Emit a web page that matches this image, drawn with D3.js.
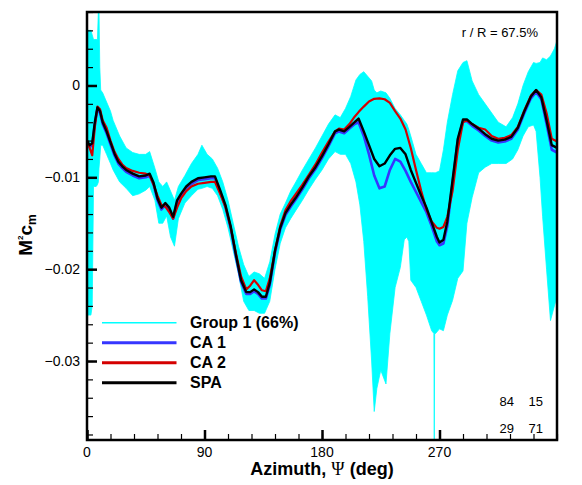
<!DOCTYPE html>
<html><head><meta charset="utf-8">
<script src="https://cdn.jsdelivr.net/npm/d3@7"></script>
<style>body{margin:0;background:#fff;}svg{display:block;font-family:Arial,"Liberation Sans",sans-serif;}</style>
</head><body>
<svg id="chart" width="582" height="485"></svg>
<script>
// ---- data (moment coefficient values, units of 1e-3 converted below) ----
const psi = [0,2,4,6,8,10,12,15,18,21,24,27,30,35,40,45,48,51,54,57,60,63,66,69,72,76,80,85,90,95,98,102,106,110,114,118,122,125,128,131,134,137,140,144,148,152,156,160,165,170,175,180,185,190,193,197,201,205,208,212,216,220,224,228,232,236,240,244,248,252,256,260,264,268,270,273,276,280,284,288,291,295,300,305,310,315,320,325,330,335,340,344,348,352,356,360];
const spa = [-6.0,-6.5,-6.3,-4.0,-2.4,-2.8,-4.0,-5.0,-6.2,-7.4,-8.3,-8.8,-9.2,-9.6,-9.9,-9.8,-9.6,-10.6,-12.3,-13.3,-12.8,-13.3,-14.3,-12.5,-11.8,-11.0,-10.5,-10.1,-10.0,-9.9,-9.9,-11.4,-13.0,-15.3,-18.4,-21.2,-22.5,-22.5,-22.2,-22.5,-23.0,-23.0,-21.5,-18.0,-15.5,-13.9,-13.0,-12.2,-11.1,-9.9,-8.9,-7.7,-6.4,-5.0,-4.8,-5.0,-4.5,-4.0,-3.6,-5.0,-6.5,-8.0,-8.8,-8.5,-7.6,-6.9,-6.8,-7.5,-9.2,-10.6,-12.0,-13.3,-14.9,-16.5,-17.1,-16.8,-14.8,-10.3,-5.8,-3.7,-3.7,-4.2,-4.7,-5.3,-5.8,-6.0,-5.9,-5.6,-4.6,-2.8,-1.2,-0.5,-1.3,-3.8,-6.5,-6.8];
const ca1 = [-6.2,-6.7,-6.5,-4.2,-2.5,-3.0,-4.2,-5.2,-6.4,-7.6,-8.5,-9.0,-9.4,-9.8,-10.1,-10.0,-9.8,-10.8,-12.5,-13.5,-13.0,-13.5,-14.5,-12.7,-12.0,-11.2,-10.7,-10.3,-10.2,-10.1,-10.1,-11.6,-13.2,-15.5,-18.6,-21.4,-22.7,-22.7,-22.4,-22.7,-23.2,-23.2,-21.7,-18.2,-15.7,-14.1,-13.2,-12.4,-11.3,-10.1,-9.1,-7.9,-6.6,-5.2,-5.0,-5.2,-4.7,-4.2,-4.0,-5.5,-7.5,-9.8,-11.2,-11.0,-9.2,-8.0,-8.3,-9.3,-10.5,-11.6,-12.7,-13.8,-15.3,-17.0,-17.4,-17.2,-15.3,-10.6,-6.0,-3.9,-3.9,-4.4,-4.9,-5.5,-6.0,-6.2,-6.1,-5.8,-4.8,-3.0,-1.4,-0.7,-1.5,-4.2,-7.0,-7.3];
const ca2 = [-6.0,-6.8,-7.6,-4.5,-2.3,-2.6,-3.8,-4.6,-6.0,-7.2,-8.0,-8.6,-9.0,-9.3,-9.5,-9.6,-9.8,-10.8,-12.0,-13.0,-13.2,-13.8,-14.5,-13.3,-12.3,-11.5,-11.0,-10.7,-10.6,-10.5,-10.5,-11.8,-13.2,-15.4,-18.2,-20.8,-22.2,-21.8,-21.2,-21.7,-22.3,-22.4,-21.0,-18.0,-15.3,-13.6,-12.6,-11.8,-10.8,-9.7,-8.6,-7.3,-6.1,-5.0,-4.7,-4.8,-4.2,-3.4,-2.9,-2.3,-1.75,-1.45,-1.4,-1.5,-1.9,-2.8,-3.6,-4.8,-6.8,-9.2,-11.5,-13.5,-14.8,-15.5,-15.6,-15.4,-14.3,-11.5,-7.0,-4.0,-3.8,-4.2,-4.6,-4.8,-5.5,-5.8,-5.7,-5.4,-4.5,-2.7,-1.1,-0.5,-1.0,-3.0,-5.8,-6.1];
// Group 1 (66%) scatter envelope
const grpPsi   = [0,2,3,4,5,6,7,8,8.7,9.2,9.8,10.5,12,15,18,20,25,30,35,40,45,48,52,55,58,61,64,67,70,75,80,85,88,92,96,100,104,108,112,116,120,124,128,132,136,140,144,148,152,156,160,165,170,175,180,185,190,194,198,202,206,209,212,215,218,220,222,225,229,232,236,240,243,245,246.5,248,252,256,260,264,265.7,266,266.3,267,270,273,276,280,284,288,291,295,300,305,310,315,321,326,330,334,338,342,344,347,349,352,355,358,360];
const grpUpper = [6,6,6,5.5,5,5,5,5,8,8,2,-0.5,-0.8,-1.8,-2.8,-3.8,-5.5,-6.8,-7.3,-7.5,-7.5,-7.2,-9,-10.5,-11,-10.5,-11.5,-12.5,-11,-9.8,-8.5,-7.5,-6.5,-7.5,-8,-9,-10.5,-12.5,-15,-17.5,-19.5,-20.8,-20.3,-20.5,-21,-19.2,-16.2,-14,-12.8,-11.5,-10.5,-9.2,-8,-6.8,-5.5,-4.2,-3.2,-3.5,-2.5,-1.2,0.6,1.2,1.5,1,0.5,-0.5,-0.8,-0.6,-0.8,-1.4,-2.5,-3.2,-3.8,-4.2,-4.8,-5.5,-7.5,-8.5,-9.5,-9.5,-9.5,-9.5,-9.5,-9.5,-9.3,-7,-4,-1,1.6,2.5,2.7,0.5,-1,-2,-3,-4,-4.5,-3.5,-2,0,1.5,2.5,2.4,2.5,3,2.8,3.2,4,4.9];
const grpLower = [-25,-25,-25,-24,-11,-11,-11,-10.8,-10.5,-9,-8,-6.5,-6.5,-7.5,-8.5,-9.2,-10.5,-11.2,-12,-11.8,-11.4,-11,-12.5,-15,-15,-14.2,-16.5,-17.5,-14.5,-12.8,-12,-11.3,-11.2,-11,-11.2,-12,-13.5,-15.5,-18,-20.5,-23.5,-24.5,-24.5,-24.8,-24.8,-23.5,-20,-17.2,-15.5,-14.5,-13.6,-12.5,-11.3,-10.2,-9.2,-8,-7.2,-7.5,-7.5,-8.5,-10.5,-13,-17,-23,-30,-35.5,-33,-31,-32.5,-27,-22,-19.8,-16.8,-16.5,-17,-21.2,-22,-23.5,-25,-26.7,-27,-38.6,-27,-27,-26.5,-26.7,-25,-23.4,-21,-20.2,-15,-12.2,-9.5,-8.9,-8.5,-8.5,-8.5,-8,-7,-5.5,-4.5,-4.3,-5,-10,-14.3,-20,-25.6,-24,-23];
const xTicksMajor = [0,90,180,270];
const yTicksMajor = [0,-0.01,-0.02,-0.03];
const seriesNames = ["Group 1 (66%)","CA 1","CA 2","SPA"];
const seriesColors = ["#00ffff","#3636ff","#d40000","#000000"];

const k = 0.001;
const svg = d3.select("#chart");
const L = 87, R = 557, T = 12, B = 440;
const x = d3.scaleLinear().domain([0,360]).range([L,R]);
const y = d3.scaleLinear().domain([-0.0386,0.008]).range([B,T]);

svg.append("defs").append("clipPath").attr("id","clip")
  .append("rect").attr("x",L).attr("y",T).attr("width",R-L).attr("height",B-T);
const g = svg.append("g").attr("clip-path","url(#clip)");

// cyan envelope
const env = grpPsi.map((p,i)=>({p, u:grpUpper[i]*k, l:grpLower[i]*k}));
g.append("path").datum(env)
  .attr("d", d3.area().x(d=>x(d.p)).y0(d=>y(d.l)).y1(d=>y(d.u)))
  .attr("fill", seriesColors[0]).attr("stroke", seriesColors[0]).attr("stroke-width",0.8);

const line = d3.line().x(d=>x(d[0])).y(d=>y(d[1]));
[[ca1,1,2.6],[ca2,2,2.2],[spa,3,2.4]].forEach(([arr,ci,w])=>{
  g.append("path").datum(psi.map((p,i)=>[p,arr[i]*k]))
    .attr("d",line).attr("fill","none").attr("stroke",seriesColors[ci])
    .attr("stroke-width",w).attr("stroke-linejoin","round");
});

// axes
const yMinor = d3.range(-0.038,0.0081,0.002).map(v=>+v.toFixed(4));
svg.append("g").attr("transform",`translate(${L},0)`)
  .call(d3.axisRight(y).tickValues(yMinor).tickSize(6).tickFormat(""))
  .call(a=>{a.select(".domain").remove(); a.selectAll("line").attr("stroke","#000").attr("stroke-width",1.2);});
svg.append("g").attr("transform",`translate(${L},0)`)
  .call(d3.axisRight(y).tickValues(yTicksMajor).tickSize(10).tickFormat(""))
  .call(a=>{a.select(".domain").remove(); a.selectAll("line").attr("stroke","#000").attr("stroke-width",2.5);});
yTicksMajor.forEach(v=>{
  svg.append("text").attr("x",L-7).attr("y",y(v)).attr("dy","0.35em")
    .attr("text-anchor","end").attr("font-size",14).attr("fill","#000")
    .text(v===0?"0":d3.format(".2f")(v));
});
const xMinor = d3.range(0,361,18);
svg.append("g").attr("transform",`translate(0,${B})`)
  .call(d3.axisTop(x).tickValues(xMinor).tickSize(6).tickFormat(""))
  .call(a=>{a.select(".domain").remove(); a.selectAll("line").attr("stroke","#000").attr("stroke-width",1.2);});
svg.append("g").attr("transform",`translate(0,${B})`)
  .call(d3.axisTop(x).tickValues(xTicksMajor).tickSize(10).tickFormat(""))
  .call(a=>{a.select(".domain").remove(); a.selectAll("line").attr("stroke","#000").attr("stroke-width",2.5);});
xTicksMajor.forEach(v=>{
  svg.append("text").attr("x",x(v)).attr("y",B+17).attr("text-anchor","middle")
    .attr("font-size",14).attr("fill","#000").text(v);
});

// frame
svg.append("rect").attr("x",L).attr("y",T).attr("width",R-L).attr("height",B-T)
  .attr("fill","none").attr("stroke","#000").attr("stroke-width",2.5);

// titles
const xt = svg.append("text").attr("x",(L+R)/2).attr("y",475).attr("text-anchor","middle")
  .attr("font-size",18).attr("font-weight","bold");
xt.append("tspan").text("Azimuth, ");
xt.append("tspan").attr("font-family","'Liberation Serif',serif").attr("font-weight","normal").text("Ψ");
xt.append("tspan").text(" (deg)");

const yt = svg.append("text").attr("transform",`translate(32,${(T+B)/2+9}) rotate(-90)`)
  .attr("text-anchor","middle").attr("font-size",19).attr("font-weight","bold");
yt.append("tspan").text("M");
yt.append("tspan").attr("font-size",8).attr("dy",-9).text("2");
yt.append("tspan").attr("dy",9).text("c");
yt.append("tspan").attr("font-size",12).attr("dy",4).text("m");

svg.append("text").attr("x",538).attr("y",37).attr("text-anchor","end")
  .attr("font-size",13).attr("fill","#000").text("r / R = 67.5%");

// legend
const lg = svg.append("g");
seriesNames.forEach((n,i)=>{
  const yy = 322.7 + i*20;
  lg.append("line").attr("x1",102).attr("x2",176.5).attr("y1",yy).attr("y2",yy)
    .attr("stroke",seriesColors[i]).attr("stroke-width",i===0?1.5:3);
  lg.append("text").attr("x",190).attr("y",yy+5.6).attr("font-size",16)
    .attr("font-weight","bold").text(n);
});

// corner numbers
[["84",514,405.5],["15",543,405.5],["29",514,432.5],["71",543,432.5]].forEach(([t,xx,yy])=>{
  svg.append("text").attr("x",xx).attr("y",yy).attr("text-anchor","end").attr("font-size",13).text(t);
});
</script>
</body></html>
